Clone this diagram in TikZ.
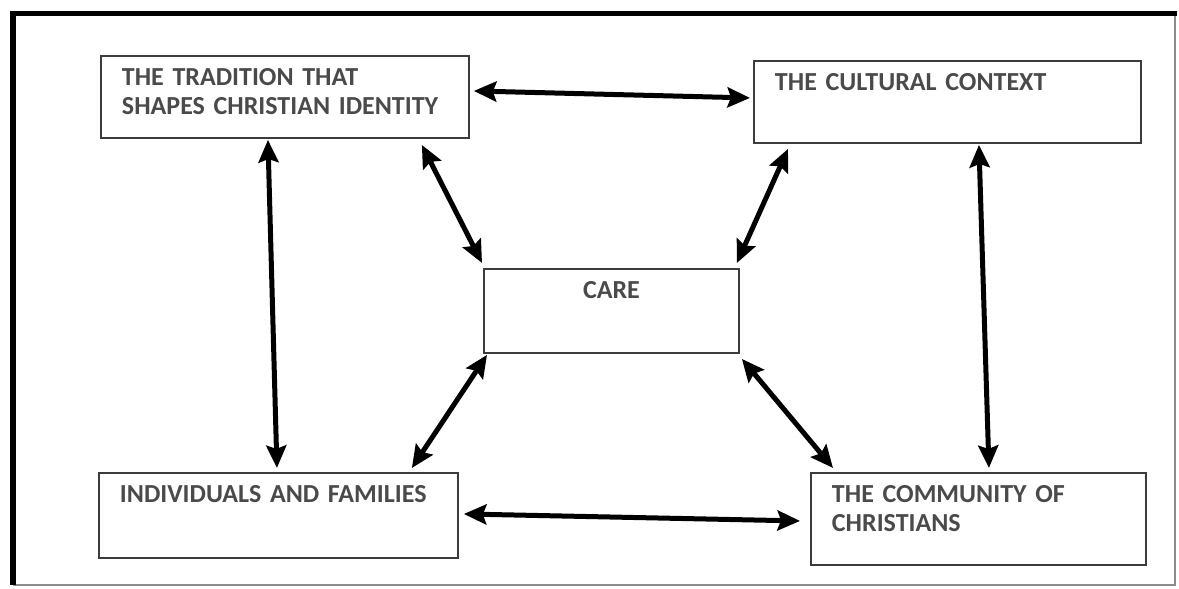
\documentclass[tikz,border=0pt]{standalone}
\usepackage{fontspec}
\setmainfont{Carlito}
\usepackage{tikz}
\usetikzlibrary{arrows.meta,calc}
\definecolor{FrameGray}{HTML}{8C8C8C}
\definecolor{BoxLine}{HTML}{3C3C3C}
\definecolor{LabelGray}{HTML}{4A4A4A}

\begin{document}
\begin{tikzpicture}[
  x=0.02cm,y=0.02cm,
  box/.style={draw=BoxLine,line width=1.1pt,anchor=north west,inner xsep=0.42cm,inner ysep=0pt,
    text height=0.6cm,align=left,text=LabelGray,font=\bfseries\fontsize{14.8}{16.4}\selectfont},
  arrow/.style={{Stealth[length=0.45cm,width=0.4cm,inset=0.07cm]}-{Stealth[length=0.45cm,width=0.4cm,inset=0.07cm]},line width=0.1cm}
]
  \useasboundingbox (0,0) rectangle (1179,588);
  % page frame
  \draw[FrameGray,line width=0.8pt] (13,3) -- (1175,3) -- (1175,574.5);
  \draw[line width=0.11cm] (13,3) -- (13,574.5) -- (1177,574.5);

  \node[box,text width=6.52cm,text depth=1.04cm] (trad) at (100,533) {THE TRADITION THAT\\SHAPES CHRISTIAN IDENTITY};
  \node[box,text width=6.90cm,text depth=1.04cm] (cult) at (753,528) {THE CULTURAL CONTEXT};
  \node[box,align=center,text width=4.26cm,text depth=1.08cm] (care) at (483,320) {CARE};
  \node[box,text width=6.34cm,text depth=1.1cm] (indiv) at (98,116) {INDIVIDUALS AND FAMILIES};
  \node[box,text width=5.86cm,text depth=1.24cm] (comm) at (810,116) {THE COMMUNITY OF\\CHRISTIANS};

  % outer ring
  \draw[arrow] ([shift={(4,6)}]trad.east) -- ([shift={(-3,4)}]cult.west);
  \draw[arrow] ([shift={(-17,-1)}]trad.south) -- ([shift={(-1.5,4)}]indiv.north);
  \draw[arrow] ([shift={(31.5,-1)}]cult.south) -- ([shift={(10.5,4)}]comm.north);
  \draw[arrow] ([shift={(5,1.5)}]indiv.east) -- ([shift={(-10,-2)}]comm.west);

  % spokes to care
  \draw[arrow] ([shift={(-48,-6)}]trad.south east) -- ([shift={(-1,5)}]care.north west);
  \draw[arrow] ([shift={(35,-5)}]cult.south west) -- ([shift={(-3,5)}]care.north east);
  \draw[arrow] ([shift={(-47,4)}]indiv.north east) -- ([shift={(4,-1)}]care.south west);
  \draw[arrow] ([shift={(23,4)}]comm.north west) -- ([shift={(2,-5)}]care.south east);
\end{tikzpicture}
\end{document}
